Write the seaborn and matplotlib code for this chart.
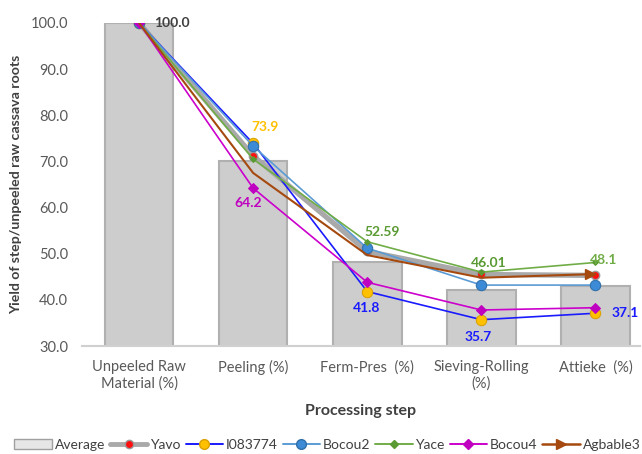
import numpy as np
import pandas as pd
import seaborn as sns
import matplotlib.pyplot as plt
from matplotlib.lines import Line2D
from matplotlib.patches import Patch

steps = ['Unpeeled Raw\nMaterial (%)', 'Peeling (%)', 'Ferm-Pres  (%)',
         'Sieving-Rolling\n(%)', 'Attieke  (%)']
average = [100.0, 70.1, 48.3, 42.2, 43.0]
yavo = [100.0, 71.2, 50.5, 45.5, 45.3]
i083774 = [100.0, 73.9, 41.8, 35.7, 37.1]
bocou2 = [100.0, 73.3, 51.2, 43.2, 43.2]
yace = [100.0, 70.5, 52.59, 46.01, 48.1]
bocou4 = [100.0, 64.2, 43.8, 37.8, 38.3]
agbable3 = [100.0, 67.5, 49.7, 44.8, 45.6]

sns.set_theme(style='white')
plt.rcParams['font.family'] = ['Lato', 'DejaVu Sans']

fig = plt.figure(figsize=(6.42, 4.54), dpi=100)
ax = fig.add_axes([82 / 642, 108 / 454, 558 / 642, 323 / 454])

idx = np.arange(len(steps))
df_avg = pd.DataFrame({'x': idx, 'y': average})
sns.barplot(data=df_avg, x='x', y='y', ax=ax, width=0.6, color='#cdcdcd',
            saturation=1, edgecolor='#b0b0b0', linewidth=1.5, native_scale=True)

sns.lineplot(x=idx, y=yavo, ax=ax, color='#a9a9a9', linewidth=3.8, marker='o',
             markersize=6, markerfacecolor='#ff1010', markeredgecolor='#9a9a9a',
             markeredgewidth=1.0)
sns.lineplot(x=idx, y=i083774, ax=ax, color='#1a1aff', linewidth=1.2, marker='o',
             markersize=7.5, markerfacecolor='#ffc000', markeredgecolor='#d9a000')
sns.lineplot(x=idx, y=bocou2, ax=ax, color='#5b9bd5', linewidth=1.2, marker='o',
             markersize=7.5, markerfacecolor='#3d8bd6', markeredgecolor='#2e6faa')
sns.lineplot(x=idx, y=yace, ax=ax, color='#70ad47', linewidth=1.2, marker='D',
             markersize=3, markerfacecolor='#5a9a32', markeredgecolor='#5a9a32')
sns.lineplot(x=idx, y=bocou4, ax=ax, color='#cc00cc', linewidth=1.2, marker='D',
             markersize=5, markerfacecolor='#c000c0', markeredgecolor='#c000c0')
sns.lineplot(x=idx, y=agbable3, ax=ax, color='#a5490f', linewidth=1.5)
ax.plot(idx[-1] - 0.05, agbable3[-1], marker='>', color='#a5490f', markersize=7)

# value labels
lab = dict(fontsize=10, fontweight='bold', va='center')
ax.text(0.13, 100.0, '100.0', color='#404040', **lab)
ax.text(1.1, 77.5, '73.9', color='#ffc000', ha='center', **lab)
ax.text(0.96, 61.0, '64.2', color='#c000c0', ha='center', **lab)
ax.text(2.13, 54.7, '52.59', color='#5a9a32', ha='center', **lab)
ax.text(1.99, 38.2, '41.8', color='#1a1aff', ha='center', **lab)
ax.text(3.06, 48.0, '46.01', color='#5a9a32', ha='center', **lab)
ax.text(2.97, 32.0, '35.7', color='#1a1aff', ha='center', **lab)
ax.text(4.07, 48.7, '48.1', color='#70ad47', ha='center', **lab)
ax.text(4.14, 37.2, '37.1', color='#1a1aff', **lab)

ax.set_xlim(-0.5, 4.39)
ax.set_ylim(30, 100)
ax.set_yticks(np.arange(30, 101, 10))
ax.set_yticklabels([f'{v:.1f}' for v in np.arange(30, 101, 10)])
ax.set_xticks(idx)
ax.set_xticklabels(steps)
ax.tick_params(axis='both', colors='#595959', labelsize=10.5, length=0)
ax.tick_params(axis='x', pad=10)
ax.tick_params(axis='y', pad=10)
for s in ['top', 'right', 'left']:
    ax.spines[s].set_visible(False)
ax.spines['bottom'].set_color('#d0d0d0')
ax.spines['bottom'].set_linewidth(1.5)
ax.set_xlabel('Processing step', fontsize=11.5, fontweight='bold', color='#404040', labelpad=10)
ax.set_ylabel('Yield of step/unpeeled raw cassava roots', fontsize=10.2,
              fontweight='bold', color='#404040')
ax.yaxis.set_label_coords(-0.108, 0.5)

handles = [
    Patch(facecolor='#e6e6e6', edgecolor='#a0a0a0', label='Average'),
    Line2D([], [], color='#a9a9a9', lw=3.5, marker='o', markersize=6,
           markerfacecolor='#ff1010', markeredgecolor='#9a9a9a', label='Yavo'),
    Line2D([], [], color='#1a1aff', lw=1.4, marker='o', markersize=7,
           markerfacecolor='#ffc000', markeredgecolor='#d9a000', label='I083774'),
    Line2D([], [], color='#5b9bd5', lw=1.4, marker='o', markersize=7,
           markerfacecolor='#3d8bd6', markeredgecolor='#2e6faa', label='Bocou2'),
    Line2D([], [], color='#70ad47', lw=1.4, marker='D', markersize=4,
           markerfacecolor='#5a9a32', markeredgecolor='#5a9a32', markevery=[0], label='Yace'),
    Line2D([], [], color='#cc00cc', lw=1.4, marker='D', markersize=5,
           markerfacecolor='#c000c0', markeredgecolor='#c000c0', markevery=[1], label='Bocou4'),
    Line2D([], [], color='#a5490f', lw=1.8, marker='>', markersize=7,
           markevery=[1], label='Agbable3'),
]
fig.legend(handles=handles, loc='center', bbox_to_anchor=(0.51, 9 / 454),
           ncol=7, frameon=False, fontsize=10, handlelength=2.7, handletextpad=0.2,
           columnspacing=0.35, labelcolor='#404040')

fig.savefig('out.png', dpi=100)
